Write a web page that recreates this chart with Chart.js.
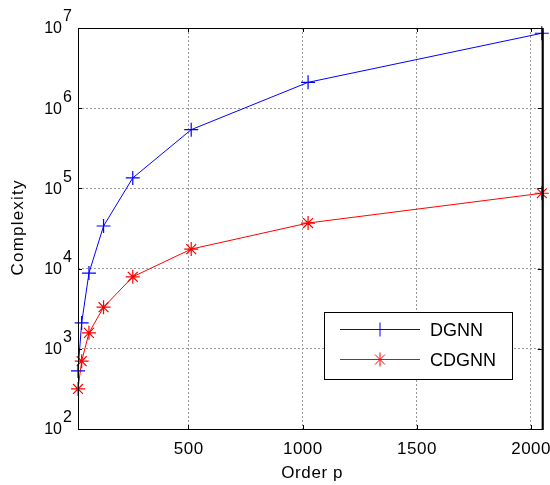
<!DOCTYPE html>
<html>
<head>
<meta charset="utf-8">
<script src="https://cdn.jsdelivr.net/npm/chart.js@4/dist/chart.umd.min.js"></script>
<style>
  html, body { margin: 0; padding: 0; background: #fff; }
</style>
</head>
<body>
<canvas id="chart" width="550" height="485"></canvas>
<script>
// values
const orders = [16, 32, 64, 128, 256, 512, 1024, 2048];
const dgnn = [530, 2100, 8800, 34000, 135000, 540000, 2100000, 8600000];
const cdgnn = [316, 700, 1580, 3300, 7900, 17500, 37000, 87000];
const xTicks = [500, 1000, 1500, 2000];
const yExps = [2, 3, 4, 5, 6, 7];
const seriesNames = ['DGNN', 'CDGNN'];
const xTitle = 'Order p';
const yTitle = 'Complexity';

const FONT = '"Liberation Sans", Arial, sans-serif';

function spacedText(ctx, text, x, y, spacing) {
  ctx.letterSpacing = spacing + 'px';
  // trailing spacing shifts centred text, compensate
  if (ctx.textAlign === 'center') x += spacing / 2;
  ctx.fillText(text, x, y);
  ctx.letterSpacing = '0px';
}

// MATLAB-like box, labels and legend
const matlabLook = {
  id: 'matlabLook',
  afterDraw(chart) {
    const ctx = chart.ctx;
    const area = chart.chartArea;
    const y = chart.scales.y;
    const x = chart.scales.x;
    ctx.save();

    // box
    ctx.strokeStyle = '#000';
    ctx.lineWidth = 1;
    ctx.strokeRect(area.left + 0.5, area.top + 0.5, area.right - area.left, area.bottom - area.top);
    ctx.lineWidth = 2;
    ctx.beginPath();
    ctx.moveTo(area.right + 1, area.top);
    ctx.lineTo(area.right + 1, area.bottom + 1);
    ctx.stroke();

    // inward ticks
    ctx.lineWidth = 1;
    ctx.beginPath();
    yExps.forEach((e) => {
      const py = Math.round(y.getPixelForValue(Math.pow(10, e))) + 0.5;
      ctx.moveTo(area.left, py); ctx.lineTo(area.left + 4, py);
      ctx.moveTo(area.right, py); ctx.lineTo(area.right - 4, py);
    });
    xTicks.forEach((v) => {
      const px = Math.round(x.getPixelForValue(v)) + 0.5;
      ctx.moveTo(px, area.bottom); ctx.lineTo(px, area.bottom - 4);
      ctx.moveTo(px, area.top); ctx.lineTo(px, area.top + 4);
    });
    ctx.stroke();

    ctx.fillStyle = '#000';
    ctx.textBaseline = 'middle';

    // y tick labels: 10 with exponent
    ctx.font = '16px ' + FONT;
    yExps.forEach((e) => {
      const py = y.getPixelForValue(Math.pow(10, e));
      ctx.textAlign = 'right';
      ctx.fillText('10', 62, py + 1);
      ctx.textAlign = 'left';
      ctx.fillText(String(e), 63, py - 11);
    });

    // x tick labels
    ctx.font = '17px ' + FONT;
    ctx.textAlign = 'center';
    xTicks.forEach((v) => {
      spacedText(ctx, String(v), x.getPixelForValue(v), 449, 0.5);
    });

    // axis titles
    ctx.font = '17px ' + FONT;
    ctx.textAlign = 'center';
    spacedText(ctx, xTitle, (area.left + area.right) / 2 + 2, 473, 0.6);
    ctx.save();
    ctx.translate(18, 228);
    ctx.rotate(-Math.PI / 2);
    ctx.font = '17px ' + FONT;
    spacedText(ctx, yTitle, 0, 0, 1.2);
    ctx.restore();

    // legend
    const lx = 324, ly = 312, lw = 188, lh = 67;
    ctx.fillStyle = '#fff';
    ctx.fillRect(lx, ly, lw, lh);
    ctx.strokeStyle = '#000';
    ctx.lineWidth = 1;
    ctx.strokeRect(lx + 0.5, ly + 0.5, lw, lh);
    chart.data.datasets.forEach((ds, i) => {
      const cy = ly + 17.5 + i * 30;
      ctx.strokeStyle = ds.borderColor;
      ctx.lineWidth = 1;
      ctx.beginPath();
      ctx.moveTo(340, cy);
      ctx.lineTo(420, cy);
      ctx.stroke();
      Chart.helpers.drawPoint(ctx, {
        pointStyle: ds.pointStyle, radius: ds.pointRadius,
        borderWidth: 1, rotation: 0
      }, 380, cy);
      ctx.fillStyle = '#000';
      ctx.font = '18px ' + FONT;
      ctx.textAlign = 'left';
      ctx.fillText(seriesNames[i], 430, cy + 2);
    });
    ctx.restore();
  }
};

new Chart(document.getElementById('chart'), {
  type: 'line',
  data: {
    datasets: [
      {
        label: seriesNames[0],
        data: orders.map((p, i) => ({ x: p, y: dgnn[i] })),
        borderColor: '#0000ff',
        backgroundColor: '#0000ff',
        borderWidth: 1,
        pointStyle: 'cross',
        pointRadius: 7,
        pointBorderWidth: 1.2,
        clip: false,
      },
      {
        label: seriesNames[1],
        data: orders.map((p, i) => ({ x: p, y: cdgnn[i] })),
        borderColor: '#ff0000',
        backgroundColor: '#ff0000',
        borderWidth: 1,
        pointStyle: 'star',
        pointRadius: 7,
        pointBorderWidth: 1.2,
        clip: false,
      },
    ],
  },
  options: {
    responsive: false,
    animation: false,
    devicePixelRatio: 1,
    layout: { padding: { top: 28, right: 8, left: 0, bottom: 0 } },
    plugins: {
      legend: { display: false },
      tooltip: { enabled: false },
    },
    scales: {
      x: {
        type: 'linear',
        min: 16,
        max: 2048,
        afterBuildTicks: (scale) => { scale.ticks = xTicks.map((v) => ({ value: v })); },
        afterFit: (scale) => { scale.height = 56; },
        grid: { color: '#9a9a9a', drawTicks: false },
        border: { display: false, dash: [2, 2] },
        ticks: { display: false },
      },
      y: {
        type: 'logarithmic',
        min: 100,
        max: 10000000,
        afterBuildTicks: (scale) => { scale.ticks = yExps.map((e) => ({ value: Math.pow(10, e) })); },
        afterFit: (scale) => { scale.width = 78; },
        grid: { color: '#9a9a9a', drawTicks: false },
        border: { display: false, dash: [2, 2] },
        ticks: { display: false },
      },
    },
  },
  plugins: [matlabLook],
});
</script>
</body>
</html>
